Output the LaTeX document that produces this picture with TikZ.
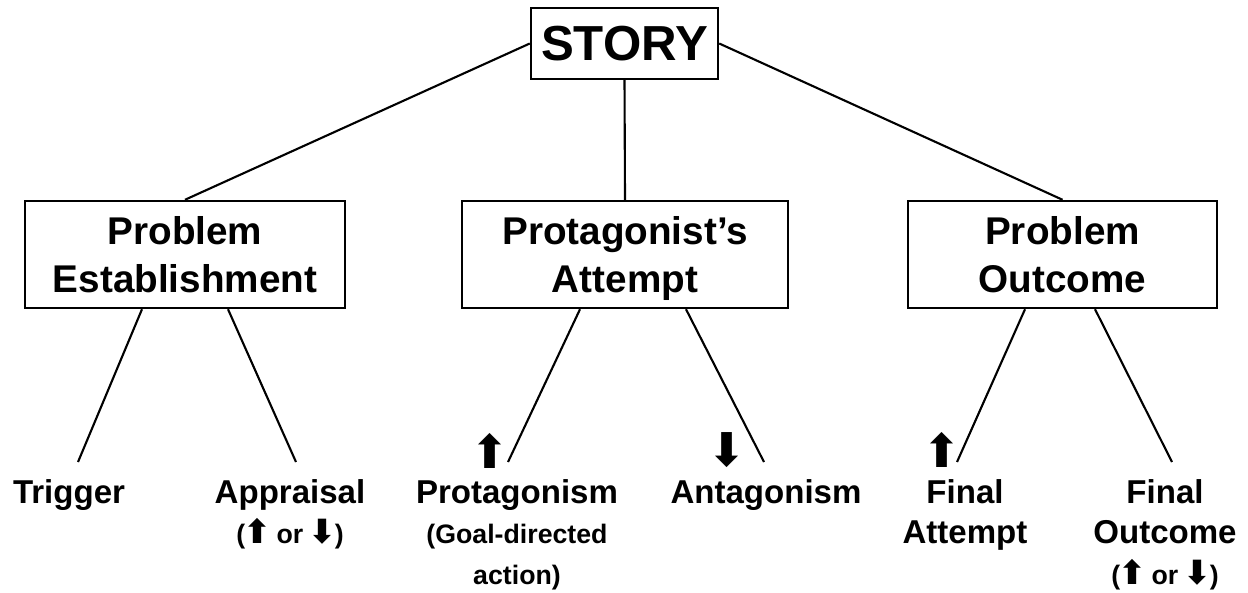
\documentclass[tikz,border=0pt]{standalone}
\usepackage{fontspec}
\setmainfont{Liberation Sans}
\newfontfamily\arrowfont[Scale=1.25]{DejaVu Sans}
\newcommand{\uparr}{{\arrowfont\kern-0.06em\char"2B06\kern-0.06em}}
\newcommand{\downarr}{{\arrowfont\kern-0.06em\char"2B07\kern-0.06em}}
\newcommand{\subf}{\fontsize{7.6}{11.4}\selectfont}
\tikzset{
  box/.style={draw,line width=0.7pt,minimum height=1.07cm,inner sep=0pt,align=center,
    text depth=0pt,font=\fontsize{11}{13.4}\selectfont\bfseries},
  leaf/.style={anchor=north,align=center,inner xsep=0pt,inner ysep=4.8pt,
    font=\fontsize{9.4}{11.4}\selectfont\bfseries},
  sign/.style={inner sep=0pt,font=\fontsize{10.6}{11}\selectfont}
}

\begin{document}
\begin{tikzpicture}[line width=0.6pt]
                \useasboundingbox (0,0) rectangle (12.48,-5.92);
                \node[box,minimum width=1.87cm,minimum height=0.71cm,font=\fontsize{14}{16}\selectfont\bfseries] (story) at (6.245,-0.435) {STORY};
                \node[box,minimum width=3.20cm] (pe) at (1.85,-2.545) {Problem\\Establishment};
                \node[box,minimum width=3.26cm] (pa) at (6.25,-2.545) {Protagonist’s\\Attempt};
                \node[box,minimum width=3.09cm] (po) at (10.625,-2.545) {Problem\\Outcome};
                \node[leaf] (trigger) at (0.69,-4.62) {Trigger};
                \node[leaf] (appraisal) at (2.90,-4.62) {Appraisal\\\subf(\uparr\ or \downarr)};
                \node[leaf] (protag) at (5.17,-4.62) {Protagonism\\\subf(Goal-directed\\\subf action)};
                \node[leaf] (antag) at (7.66,-4.62) {Antagonism};
                \node[leaf] (fattempt) at (9.65,-4.62) {Final\\Attempt};
                \node[leaf] (foutcome) at (11.65,-4.62) {Final\\Outcome\\\subf(\uparr\ or \downarr)};
                \node[sign] (upA) at (4.90,-4.51) {\uparr};
                \node[sign] (downA) at (7.27,-4.50) {\downarr};
                \node[sign] (upB) at (9.42,-4.50) {\uparr};
                \draw (story.west)--(pe.north);
                \draw (story.south)--(pa.north);
                \draw (story.east)--(po.north);
                \draw ([xshift=-0.43cm]pe.south)--([xshift=0.09cm]trigger.north);
                \draw ([xshift=0.43cm]pe.south)--([xshift=0.06cm]appraisal.north);
                \draw ([xshift=-0.45cm]pa.south)--([xshift=-0.09cm]protag.north);
                \draw ([xshift=0.61cm]pa.south)--([xshift=-0.02cm]antag.north);
                \draw ([xshift=-0.375cm]po.south)--([xshift=-0.08cm]fattempt.north);
                \draw ([xshift=0.325cm]po.south)--([xshift=0.07cm]foutcome.north);
            \end{tikzpicture}
\end{document}
